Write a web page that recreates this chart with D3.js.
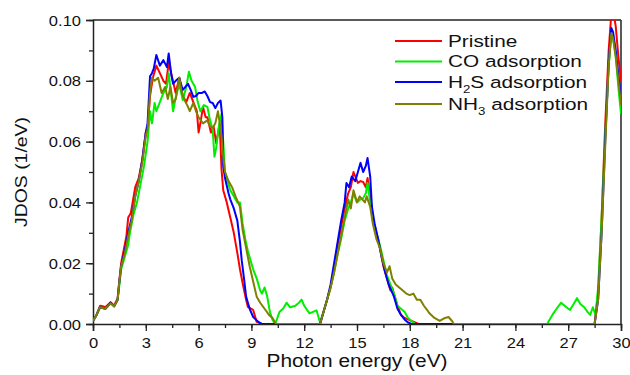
<!DOCTYPE html>
<html>
<head>
<meta charset="utf-8">
<script src="https://cdn.jsdelivr.net/npm/d3@7"></script>
<style>
  body { margin: 0; background: #fff; }
  svg { font-family: "Liberation Sans", Arial, sans-serif; }
</style>
</head>
<body>
<div id="chart"></div>
<script>
// photon energy (eV), JDOS (1/eV)
var pristine = [[0,0.001],[0.2,0.003],[0.4,0.006],[0.6,0.0058],[0.7,0.0055],[1.0,0.0072],[1.2,0.006],[1.4,0.0085],[1.5,0.0145],[1.6,0.02],[1.7,0.023],[1.9,0.029],[2.0,0.035],[2.15,0.0365],[2.4,0.045],[2.6,0.048],[2.8,0.054],[3.0,0.063],[3.1,0.064],[3.24,0.075],[3.4,0.081],[3.6,0.085],[3.8,0.0825],[4.0,0.080],[4.15,0.079],[4.3,0.086],[4.5,0.081],[4.7,0.076],[4.9,0.081],[5.1,0.075],[5.3,0.073],[5.5,0.076],[5.7,0.073],[5.9,0.070],[6.0,0.063],[6.1,0.066],[6.25,0.0714],[6.4,0.068],[6.5,0.068],[6.7,0.063],[6.85,0.065],[7.0,0.0595],[7.2,0.066],[7.3,0.051],[7.4,0.044],[7.6,0.040],[7.8,0.035],[8.0,0.030],[8.2,0.0234],[8.35,0.018],[8.5,0.0135],[8.7,0.008],[8.8,0.0056],[9.0,0.005],[9.1,0.0046],[9.3,0.0007],[9.6,0],[12.9,0],[13.1,0.004],[13.3,0.008],[13.5,0.012],[13.7,0.018],[13.9,0.026],[14.1,0.032],[14.3,0.038],[14.5,0.043],[14.65,0.045],[14.8,0.050],[15.05,0.0464],[15.2,0.047],[15.35,0.0467],[15.5,0.045],[15.6,0.048],[15.75,0.042],[15.9,0.035],[16.1,0.030],[16.3,0.025],[16.5,0.019],[16.7,0.015],[16.9,0.011],[17.0,0.012],[17.2,0.008],[17.3,0.006],[17.5,0.003],[17.7,0.002],[17.9,0.0015],[18.1,0.001],[18.3,0.0005],[18.5,0],[28.5,0],[28.7,0.01],[28.9,0.035],[29.1,0.065],[29.3,0.09],[29.45,0.102],[29.55,0.103],[29.7,0.098],[29.85,0.088],[30,0.08]];

var coAds = [[0,0.001],[0.2,0.003],[0.4,0.0055],[0.7,0.005],[1.0,0.0068],[1.2,0.0058],[1.4,0.008],[1.5,0.013],[1.6,0.018],[1.8,0.022],[2.0,0.026],[2.1,0.030],[2.3,0.036],[2.5,0.040],[2.7,0.046],[2.9,0.052],[3.1,0.060],[3.24,0.070],[3.35,0.066],[3.5,0.0727],[3.6,0.070],[3.8,0.073],[4.0,0.076],[4.2,0.078],[4.3,0.0825],[4.45,0.075],[4.55,0.070],[4.7,0.0745],[4.9,0.079],[5.1,0.0737],[5.3,0.078],[5.45,0.083],[5.6,0.080],[5.8,0.078],[5.95,0.073],[6.1,0.070],[6.3,0.072],[6.5,0.0714],[6.65,0.067],[6.8,0.064],[6.9,0.055],[7.0,0.058],[7.15,0.065],[7.3,0.069],[7.4,0.06],[7.5,0.050],[7.7,0.046],[7.8,0.044],[8.0,0.042],[8.2,0.040],[8.35,0.040],[8.5,0.033],[8.65,0.028],[8.8,0.024],[9.0,0.020],[9.1,0.018],[9.3,0.015],[9.5,0.011],[9.6,0.010],[9.75,0.012],[9.9,0.009],[10.05,0.004],[10.2,0.0013],[10.35,0],[10.6,0.004],[10.8,0.005],[11.0,0.007],[11.2,0.0055],[11.5,0.006],[11.7,0.007],[11.85,0.008],[12.0,0.006],[12.3,0.0035],[12.5,0.004],[12.7,0.0045],[12.9,0.0005],[13.1,0.004],[13.3,0.008],[13.5,0.012],[13.7,0.017],[13.9,0.023],[14.1,0.028],[14.3,0.034],[14.5,0.038],[14.65,0.040],[14.8,0.043],[15.0,0.040],[15.2,0.041],[15.35,0.0414],[15.5,0.043],[15.6,0.0464],[15.75,0.040],[15.9,0.034],[16.1,0.030],[16.3,0.026],[16.5,0.021],[16.7,0.016],[16.9,0.013],[17.1,0.010],[17.3,0.006],[17.5,0.005],[17.7,0.004],[17.9,0.002],[18.1,0.001],[18.3,0],[25.8,0],[26.1,0.003],[26.4,0.0055],[26.6,0.007],[26.9,0.0055],[27.1,0.0046],[27.3,0.0065],[27.5,0.0085],[27.7,0.0065],[27.9,0.0056],[28.1,0.004],[28.25,0.003],[28.4,0.0055],[28.55,0.003],[28.7,0.012],[28.9,0.035],[29.1,0.062],[29.3,0.085],[29.45,0.095],[29.55,0.094],[29.7,0.088],[29.85,0.078],[30,0.069]];

var h2sAds = [[0,0.001],[0.2,0.003],[0.4,0.0055],[0.7,0.005],[1.0,0.007],[1.2,0.0058],[1.4,0.008],[1.5,0.014],[1.6,0.019],[1.8,0.024],[2.0,0.030],[2.2,0.035],[2.4,0.042],[2.6,0.047],[2.8,0.054],[3.0,0.063],[3.1,0.066],[3.24,0.0815],[3.35,0.0825],[3.45,0.084],[3.6,0.0885],[3.8,0.085],[4.0,0.0868],[4.2,0.0845],[4.3,0.089],[4.45,0.082],[4.55,0.079],[4.7,0.080],[4.9,0.081],[5.1,0.077],[5.25,0.078],[5.4,0.079],[5.55,0.077],[5.7,0.0747],[5.85,0.075],[6.0,0.076],[6.2,0.076],[6.35,0.0765],[6.5,0.075],[6.65,0.073],[6.8,0.0727],[6.95,0.071],[7.1,0.0727],[7.25,0.0735],[7.35,0.068],[7.4,0.052],[7.5,0.048],[7.7,0.043],[7.8,0.041],[8.0,0.038],[8.2,0.034],[8.35,0.027],[8.45,0.021],[8.6,0.014],[8.7,0.009],[8.9,0.005],[9.1,0.0023],[9.4,0.0007],[9.6,0],[12.9,0],[13.1,0.004],[13.3,0.008],[13.5,0.013],[13.7,0.020],[13.9,0.027],[14.1,0.034],[14.3,0.040],[14.4,0.0464],[14.55,0.045],[14.7,0.0485],[14.9,0.047],[15.05,0.050],[15.2,0.053],[15.35,0.050],[15.5,0.052],[15.6,0.0546],[15.75,0.0485],[15.85,0.0385],[16.0,0.033],[16.2,0.028],[16.4,0.022],[16.6,0.017],[16.8,0.013],[16.95,0.011],[17.1,0.009],[17.3,0.005],[17.5,0.003],[17.7,0.0015],[17.9,0.0005],[18.1,0],[28.5,0],[28.7,0.008],[28.9,0.03],[29.1,0.06],[29.3,0.086],[29.45,0.0974],[29.55,0.096],[29.7,0.09],[29.85,0.082],[30,0.074]];

var nh3Ads = [[0,0.001],[0.2,0.003],[0.4,0.0055],[0.7,0.005],[1.0,0.0068],[1.2,0.0058],[1.4,0.008],[1.5,0.014],[1.6,0.019],[1.8,0.023],[2.0,0.029],[2.2,0.034],[2.4,0.042],[2.6,0.047],[2.8,0.053],[3.0,0.062],[3.1,0.064],[3.24,0.076],[3.35,0.081],[3.5,0.080],[3.7,0.081],[3.9,0.076],[4.1,0.078],[4.25,0.074],[4.4,0.078],[4.55,0.0727],[4.7,0.074],[4.9,0.081],[5.05,0.076],[5.2,0.0737],[5.35,0.072],[5.5,0.070],[5.7,0.0727],[5.85,0.070],[6.0,0.068],[6.25,0.066],[6.5,0.067],[6.65,0.065],[6.8,0.0645],[6.95,0.066],[7.1,0.070],[7.3,0.062],[7.4,0.055],[7.5,0.050],[7.7,0.047],[7.9,0.045],[8.1,0.042],[8.35,0.0385],[8.5,0.031],[8.7,0.025],[8.9,0.019],[9.1,0.014],[9.3,0.009],[9.5,0.007],[9.8,0.0046],[10.0,0.003],[10.2,0.002],[10.4,0],[12.9,0],[13.1,0.004],[13.3,0.008],[13.5,0.012],[13.7,0.017],[13.9,0.023],[14.1,0.029],[14.3,0.035],[14.5,0.041],[14.65,0.038],[14.8,0.044],[15.0,0.040],[15.15,0.042],[15.3,0.041],[15.45,0.040],[15.55,0.042],[15.75,0.0385],[15.9,0.033],[16.1,0.028],[16.3,0.025],[16.5,0.020],[16.7,0.017],[16.85,0.019],[17.0,0.015],[17.2,0.013],[17.4,0.012],[17.6,0.011],[17.8,0.010],[18.0,0.0095],[18.2,0.010],[18.4,0.008],[18.6,0.008],[18.8,0.006],[19.0,0.0045],[19.1,0.0036],[19.4,0.002],[19.7,0.001],[20.0,0.002],[20.2,0.0023],[20.4,0.001],[20.5,0],[28.5,0],[28.7,0.008],[28.9,0.03],[29.1,0.058],[29.3,0.085],[29.45,0.0957],[29.55,0.094],[29.7,0.088],[29.85,0.08],[30,0.072]];

var xTicks = [0, 3, 6, 9, 12, 15, 18, 21, 24, 27, 30];
var yTicks = [0, 0.02, 0.04, 0.06, 0.08, 0.10];

var series = [
    { name: "Pristine", sub: null, rest: null, color: "#ff0000", data: pristine },
    { name: "CO adsorption", sub: null, rest: null, color: "#00ee00", data: coAds },
    { name: "H", sub: "2", rest: "S adsorption", color: "#0000ff", data: h2sAds },
    { name: "NH", sub: "3", rest: " adsorption", color: "#808000", data: nh3Ads }
];

var width = 630, height = 375;
var margin = { top: 20, right: 9, bottom: 51, left: 93 };
var innerW = width - margin.left - margin.right;
var innerH = height - margin.top - margin.bottom;

var svg = d3.select("#chart").append("svg").attr("width", width).attr("height", height);
var g = svg.append("g").attr("transform", "translate(" + margin.left + "," + margin.top + ")");

var x = d3.scaleLinear().domain([0, 30]).range([0, innerW]);
var y = d3.scaleLinear().domain([0, 0.10]).range([innerH, 0]);

g.append("clipPath").attr("id", "clip")
    .append("rect").attr("width", innerW).attr("height", innerH);

// minor ticks
g.append("g")
    .attr("transform", "translate(0," + innerH + ")")
    .call(d3.axisBottom(x).tickValues(d3.range(0, 30.1, 1.5)).tickSize(4).tickFormat(""))
    .call(function (a) { a.select(".domain").remove(); });
g.append("g")
    .call(d3.axisLeft(y).tickValues(d3.range(0, 0.1001, 0.01)).tickSize(4).tickFormat(""))
    .call(function (a) { a.select(".domain").remove(); });

var xAxis = g.append("g")
    .attr("transform", "translate(0," + innerH + ")")
    .call(d3.axisBottom(x).tickValues(xTicks).tickSize(7).tickFormat(d3.format("d")));
var yAxis = g.append("g")
    .call(d3.axisLeft(y).tickValues(yTicks).tickSize(7).tickFormat(d3.format(".2f")));

// the original lettering is a little wide, so stretch it sideways
xAxis.selectAll("text")
    .attr("y", 0).attr("dy", 0)
    .attr("transform", "translate(0,24) scale(1.18,1)");
yAxis.selectAll("text")
    .attr("x", 0).attr("dy", "0.36em")
    .attr("transform", "translate(-12,0) scale(1.18,1)");

[xAxis, yAxis].forEach(function (a) {
    a.selectAll("text").attr("font-size", 14).attr("fill", "#111").attr("font-family", "Liberation Sans, Arial, sans-serif");
    a.select(".domain").attr("stroke", "#222").attr("stroke-width", 1.5);
});
g.selectAll(".tick line").attr("stroke", "#222").attr("stroke-width", 1.3);

// frame top / right
g.append("line").attr("x1", 0).attr("x2", innerW).attr("y1", 0).attr("y2", 0)
    .attr("stroke", "#222").attr("stroke-width", 1.5);
g.append("line").attr("x1", innerW).attr("x2", innerW).attr("y1", 0).attr("y2", innerH)
    .attr("stroke", "#222").attr("stroke-width", 1.5);

var line = d3.line()
    .x(function (d) { return x(d[0]); })
    .y(function (d) { return y(d[1]); });

g.append("g").attr("clip-path", "url(#clip)")
    .selectAll("path")
    .data(series)
    .enter().append("path")
    .attr("d", function (d) { return line(d.data); })
    .attr("fill", "none")
    .attr("stroke", function (d) { return d.color; })
    .attr("stroke-width", 2)
    .attr("stroke-linejoin", "round");

// legend
var legendY = [21, 41.5, 62, 84];
var legend = g.append("g").attr("transform", "translate(302,0)");
var item = legend.selectAll("g")
    .data(series)
    .enter().append("g")
    .attr("transform", function (d, i) { return "translate(0," + legendY[i] + ")"; });

item.append("line")
    .attr("x1", 0).attr("x2", 47)
    .attr("stroke", function (d) { return d.color; })
    .attr("stroke-width", 2);

var label = item.append("text")
    .attr("transform", "translate(53,0) scale(1.26,1)")
    .attr("dy", "0.36em")
    .attr("font-size", 16.5).attr("fill", "#111");
label.append("tspan").text(function (d) { return d.name; });
label.filter(function (d) { return d.sub; }).append("tspan")
    .attr("font-size", 10.5).attr("dy", 5).text(function (d) { return d.sub; });
label.filter(function (d) { return d.rest; }).append("tspan")
    .attr("dy", -5).text(function (d) { return d.rest; });

// axis titles
svg.append("text")
    .attr("transform", "translate(" + (margin.left + innerW / 2) + ",367) scale(1.13,1)")
    .attr("text-anchor", "middle").attr("font-size", 18.5).attr("fill", "#111")
    .text("Photon energy (eV)");
svg.append("text")
    .attr("transform", "translate(27," + (margin.top + innerH / 2) + ") rotate(-90) scale(1.14,1)")
    .attr("text-anchor", "middle").attr("font-size", 17).attr("fill", "#111")
    .text("JDOS (1/eV)");
</script>
</body>
</html>
